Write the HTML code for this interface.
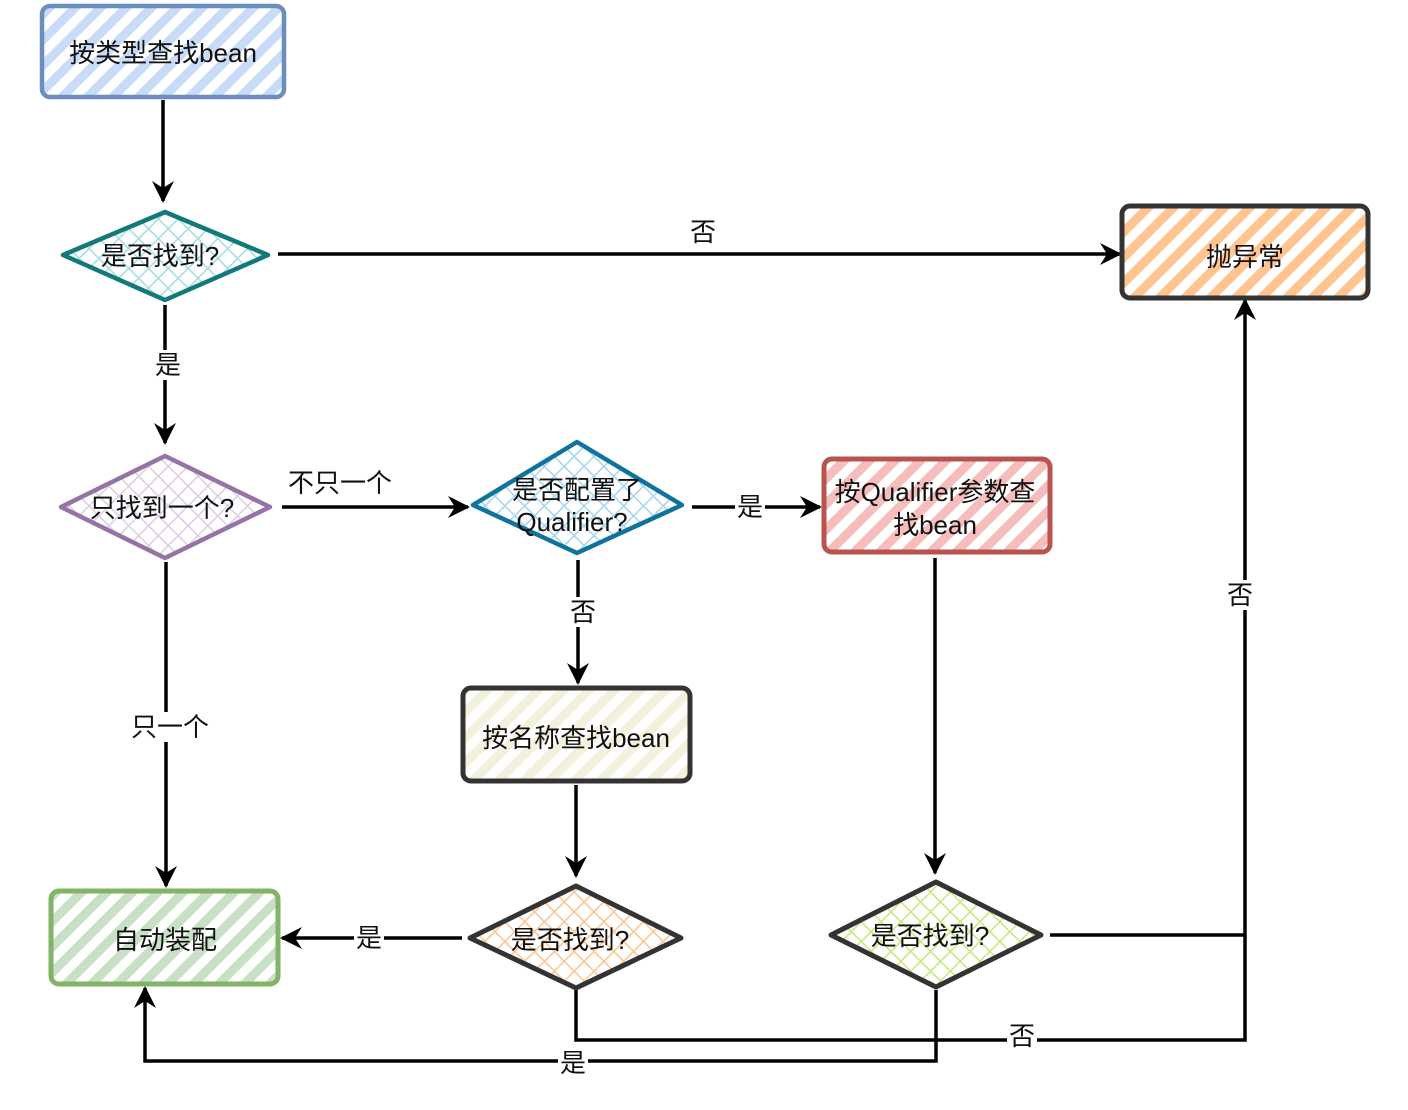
<!DOCTYPE html>
<html><head><meta charset="utf-8"><style>
html,body{margin:0;padding:0;background:#fff}
svg{display:block}
text{font-family:"Liberation Sans","Noto Sans CJK SC",sans-serif;font-size:26px;fill:#111;text-anchor:middle;dominant-baseline:central}
.e{stroke:#000;stroke-width:3.5;fill:none}
.lb{fill:#fff}
</style></head><body>
<svg width="1408" height="1110" viewBox="0 0 1408 1110">
<defs>
<marker id="a" markerWidth="24" markerHeight="24" refX="20" refY="12" orient="auto" markerUnits="userSpaceOnUse" viewBox="0 0 24 24"><path d="M0,1 L22,12 L0,23 L7,12z" fill="#000"/></marker>
<pattern id="hb" width="18" height="18" patternUnits="userSpaceOnUse" patternTransform="rotate(45)"><rect width="9" height="18" fill="#c9dcf7"/></pattern>
<pattern id="ho" width="18" height="18" patternUnits="userSpaceOnUse" patternTransform="rotate(45)"><rect width="9" height="18" fill="#ffc48f"/></pattern>
<pattern id="hr" width="18" height="18" patternUnits="userSpaceOnUse" patternTransform="rotate(45)"><rect width="9" height="18" fill="#f5bdbb"/></pattern>
<pattern id="hy" width="18" height="18" patternUnits="userSpaceOnUse" patternTransform="rotate(45)"><rect width="9" height="18" fill="#f3f0dc"/></pattern>
<pattern id="hg" width="18" height="18" patternUnits="userSpaceOnUse" patternTransform="rotate(45)"><rect width="9" height="18" fill="#c8e0c6"/></pattern>
<pattern id="xt" width="14" height="14" patternUnits="userSpaceOnUse" patternTransform="rotate(45)"><path d="M0,0V14M0,0H14" stroke="#a4dde0" stroke-width="3"/></pattern>
<pattern id="xp" width="14" height="14" patternUnits="userSpaceOnUse" patternTransform="rotate(45)"><path d="M0,0V14M0,0H14" stroke="#dccde3" stroke-width="3"/></pattern>
<pattern id="xb" width="14" height="14" patternUnits="userSpaceOnUse" patternTransform="rotate(45)"><path d="M0,0V14M0,0H14" stroke="#a3d6ee" stroke-width="3"/></pattern>
<pattern id="xo" width="14" height="14" patternUnits="userSpaceOnUse" patternTransform="rotate(45)"><path d="M0,0V14M0,0H14" stroke="#ffc48f" stroke-width="3"/></pattern>
<pattern id="xg" width="14" height="14" patternUnits="userSpaceOnUse" patternTransform="rotate(45)"><path d="M0,0V14M0,0H14" stroke="#c6e87a" stroke-width="3"/></pattern>
</defs>

<path class="e" d="M163,100V201" marker-end="url(#a)"/>
<path class="e" d="M278,254H1120" marker-end="url(#a)"/>
<path class="e" d="M165,305V443" marker-end="url(#a)"/>
<path class="e" d="M282,507H468" marker-end="url(#a)"/>
<path class="e" d="M692,507H820" marker-end="url(#a)"/>
<path class="e" d="M578,560V683" marker-end="url(#a)"/>
<path class="e" d="M166,562V886" marker-end="url(#a)"/>
<path class="e" d="M935,558V873" marker-end="url(#a)"/>
<path class="e" d="M576,785V876" marker-end="url(#a)"/>
<path class="e" d="M462,938H282" marker-end="url(#a)"/>
<path class="e" d="M1050,935H1245"/>
<path class="e" d="M576,990V1040H1245V300" marker-end="url(#a)"/>
<path class="e" d="M936,990V1061H145V988" marker-end="url(#a)"/>

<rect x="42" y="6" width="242" height="91" rx="8" fill="url(#hb)" stroke="#6c8ebf" stroke-width="4.5"/>
<text x="163" y="53">按类型查找bean</text>

<path d="M165,212 L268,255 L165,300 L63,255Z" fill="url(#xt)" stroke="#12797a" stroke-width="4.5" stroke-linejoin="round"/>
<text x="160" y="256">是否找到?</text>

<rect x="1122" y="206" width="246" height="92" rx="8" fill="url(#ho)" stroke="#333" stroke-width="5"/>
<text x="1245" y="257">抛异常</text>

<path d="M165,456 L270,507 L165,558 L61,507Z" fill="url(#xp)" stroke="#9673a6" stroke-width="4.5" stroke-linejoin="round"/>
<text x="162" y="508">只找到一个?</text>

<path d="M577,442 L682,505 L577,553 L473,505Z" fill="url(#xb)" stroke="#10739e" stroke-width="4.5" stroke-linejoin="round"/>
<text x="577" y="490">是否配置了</text>
<text x="572" y="522">Qualifier?</text>

<rect x="824" y="459" width="226" height="93" rx="8" fill="url(#hr)" stroke="#b85450" stroke-width="5"/>
<text x="935" y="492">按Qualifier参数查</text>
<text x="935" y="525">找bean</text>

<rect x="463" y="688" width="227" height="93" rx="8" fill="url(#hy)" stroke="#333" stroke-width="5"/>
<text x="576" y="738">按名称查找bean</text>

<rect x="51" y="891" width="227" height="93" rx="8" fill="url(#hg)" stroke="#82b366" stroke-width="5"/>
<text x="165" y="940">自动装配</text>

<path d="M576,886 L681,938 L576,988 L470,938Z" fill="url(#xo)" stroke="#333" stroke-width="5" stroke-linejoin="round"/>
<text x="570" y="940">是否找到?</text>

<path d="M936,882 L1041,935 L936,987 L831,935Z" fill="url(#xg)" stroke="#333" stroke-width="5" stroke-linejoin="round"/>
<text x="930" y="936">是否找到?</text>

<text x="703" y="232">否</text>
<rect class="lb" x="152" y="350" width="30" height="30"/><text x="168" y="365">是</text>
<text x="340" y="483">不只一个</text>
<rect class="lb" x="735" y="492" width="30" height="30"/><text x="750" y="507">是</text>
<rect class="lb" x="568" y="597" width="30" height="30"/><text x="583" y="612">否</text>
<rect class="lb" x="128" y="712" width="84" height="30"/><text x="170" y="727">只一个</text>
<rect class="lb" x="354" y="923" width="30" height="30"/><text x="369" y="938">是</text>
<rect class="lb" x="1225" y="580" width="30" height="30"/><text x="1240" y="595">否</text>
<rect class="lb" x="1007" y="1021" width="30" height="30"/><text x="1022" y="1036">否</text>
<rect class="lb" x="558" y="1048" width="30" height="30"/><text x="573" y="1063">是</text>
</svg>
</body></html>
